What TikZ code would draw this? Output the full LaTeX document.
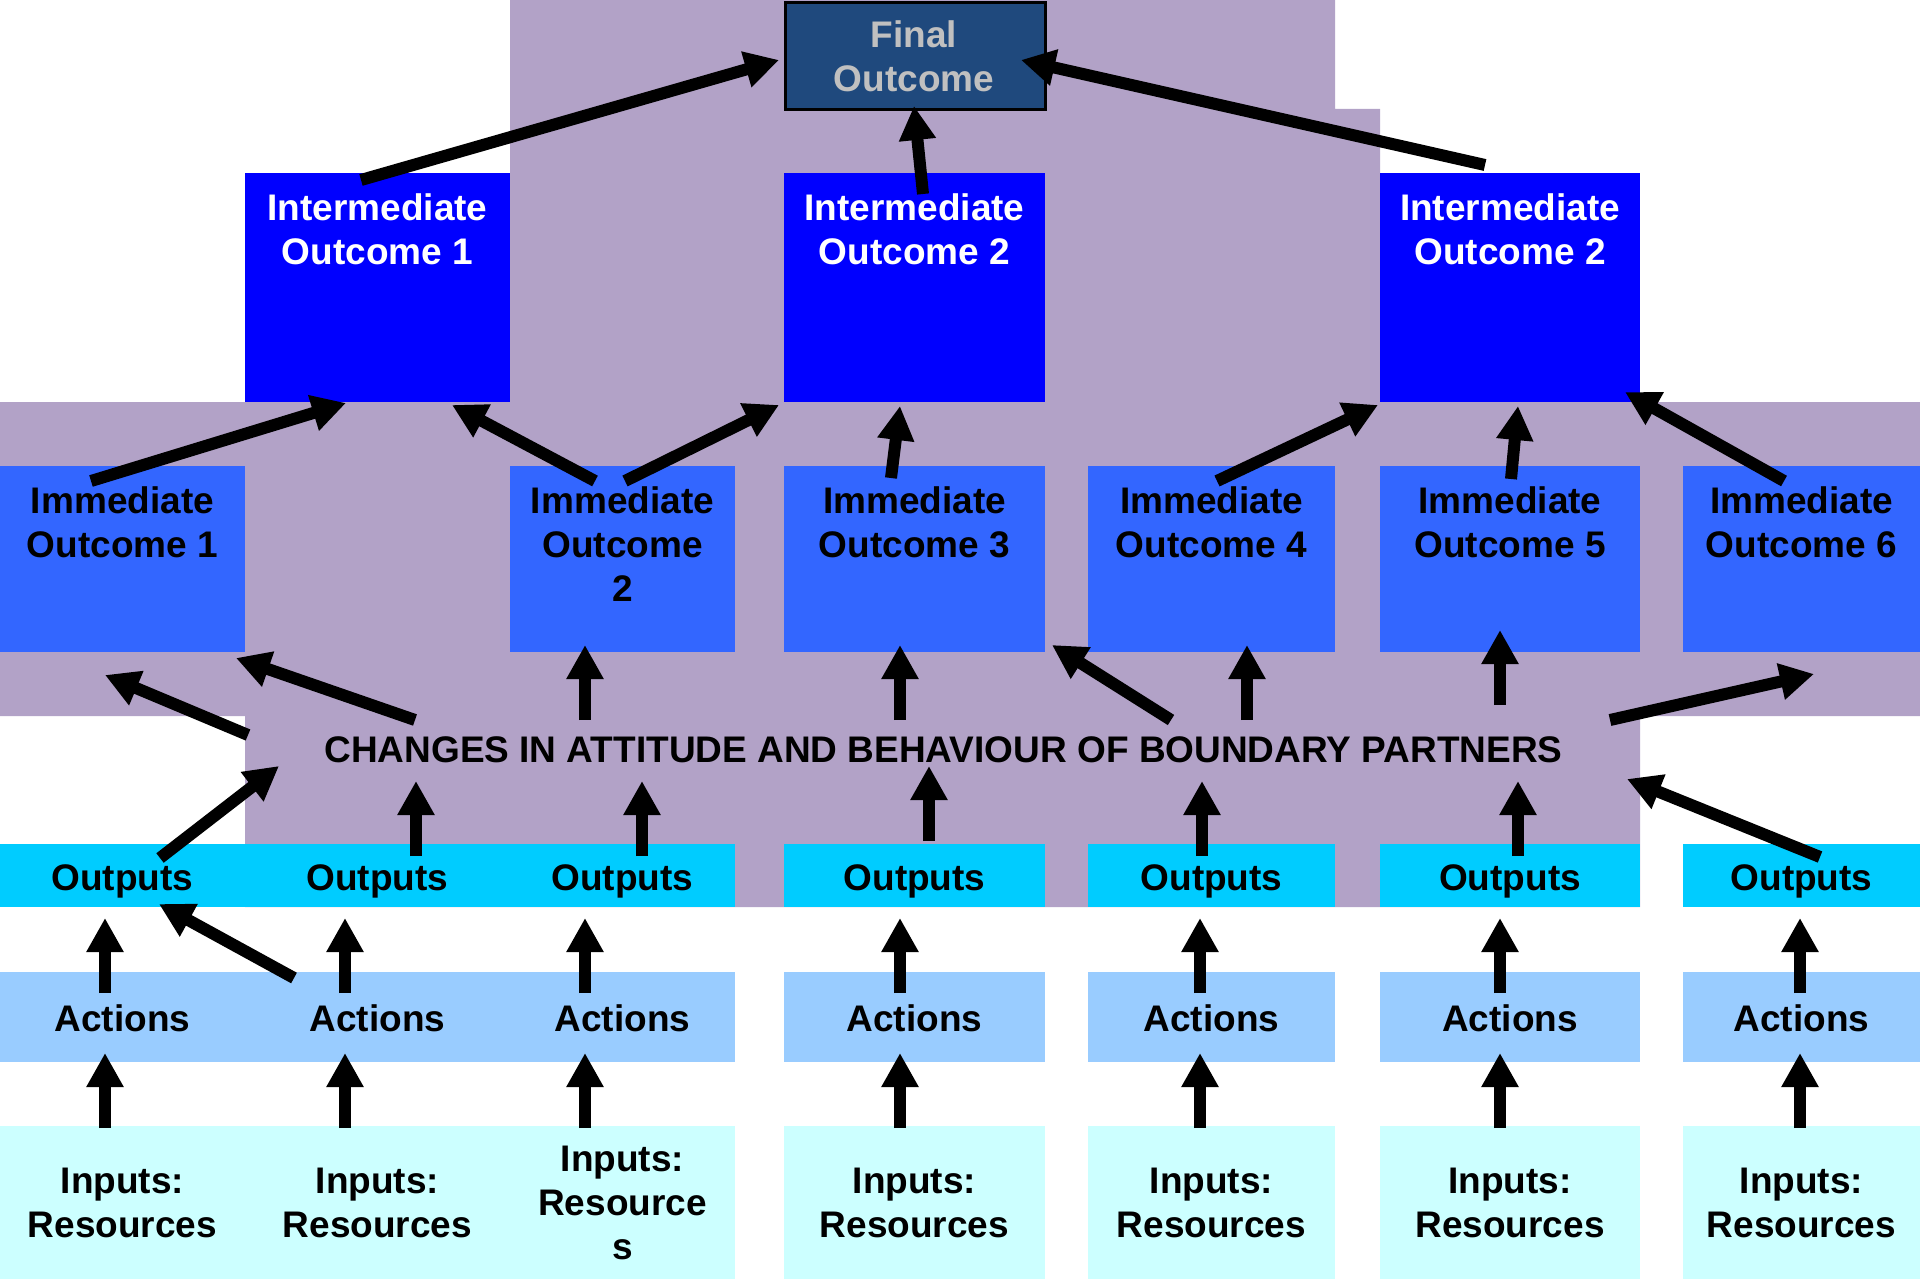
\documentclass[tikz,border=0pt]{standalone}
\usepackage{fontspec}
\setmainfont{Liberation Sans}
\usetikzlibrary{arrows.meta}
\definecolor{purp}{HTML}{B2A2C7}
\definecolor{finalc}{HTML}{1F497D}
\definecolor{finalt}{HTML}{C0C0C0}
\definecolor{interc}{HTML}{0000FF}
\definecolor{immc}{HTML}{3366FF}
\definecolor{outc}{HTML}{00CCFF}
\definecolor{actc}{HTML}{99CCFF}
\definecolor{inc}{HTML}{CCFFFF}
\begin{document}
\begin{tikzpicture}[x=1pt,y=-1pt,
  box/.style={rectangle, inner sep=0pt, anchor=north west, draw=none},
  txt/.style={inner sep=0pt, anchor=north, align=center, font=\bfseries\fontsize{37}{44}\selectfont},
  arr/.style={line width=12pt, -{Triangle[width=35pt,length=34pt]}},
]
\useasboundingbox (0,0) rectangle (1920,1279);
% purple background
\fill[purp] (510,0) -- (1335,0) -- (1335,109) -- (1380,109) -- (1380,402) -- (1920,402)
  -- (1920,716) -- (1640,716) -- (1640,907) -- (245,907) -- (245,716) -- (0,716)
  -- (0,402) -- (510,402) -- cycle;

% final outcome
\node[box, fill=finalc, draw=black, line width=3pt, minimum width=260pt, minimum height=107pt] (FO) at (784,1.5) {};
\node[txt, text=finalt] (FOt) at (914,20) {Final\\Outcome};

% intermediate outcomes
\node[box, fill=interc, minimum width=265pt, minimum height=229pt] (IO1) at (245,173) {};
\node[box, fill=interc, minimum width=261pt, minimum height=229pt] (IO2) at (784,173) {};
\node[box, fill=interc, minimum width=260pt, minimum height=229pt] (IO3) at (1380,173) {};
\node[txt, text=white] (IO1t) at (377.5,193) {Intermediate\\Outcome 1};
\node[txt, text=white] (IO2t) at (914.5,193) {Intermediate\\Outcome 2};
\node[txt, text=white] (IO3t) at (1510,193) {Intermediate\\Outcome 2};

% immediate outcomes
\node[box, fill=immc, minimum width=245pt, minimum height=186pt] (IM1) at (0,466) {};
\node[box, fill=immc, minimum width=225pt, minimum height=186pt] (IM2) at (510,466) {};
\node[box, fill=immc, minimum width=261pt, minimum height=186pt] (IM3) at (784,466) {};
\node[box, fill=immc, minimum width=247pt, minimum height=186pt] (IM4) at (1088,466) {};
\node[box, fill=immc, minimum width=260pt, minimum height=186pt] (IM5) at (1380,466) {};
\node[box, fill=immc, minimum width=237pt, minimum height=186pt] (IM6) at (1683,466) {};
\node[txt] (IM1t) at (122.5,486) {Immediate\\Outcome 1};
\node[txt] (IM2t) at (622.5,486) {Immediate\\Outcome\\2};
\node[txt] (IM3t) at (914.5,486) {Immediate\\Outcome 3};
\node[txt] (IM4t) at (1211.5,486) {Immediate\\Outcome 4};
\node[txt] (IM5t) at (1510,486) {Immediate\\Outcome 5};
\node[txt] (IM6t) at (1801.5,486) {Immediate\\Outcome 6};

% changes text
\node[txt] (CH) at (943.5,736) {CHANGES IN ATTITUDE AND BEHAVIOUR OF BOUNDARY PARTNERS};

% outputs
\node[box, fill=outc, minimum width=735pt, minimum height=63pt] (OUA) at (0,844) {};
\node[box, fill=outc, minimum width=261pt, minimum height=63pt] (OU4) at (784,844) {};
\node[box, fill=outc, minimum width=247pt, minimum height=63pt] (OU5) at (1088,844) {};
\node[box, fill=outc, minimum width=260pt, minimum height=63pt] (OU6) at (1380,844) {};
\node[box, fill=outc, minimum width=237pt, minimum height=63pt] (OU7) at (1683,844) {};
\node[txt] (O1t) at (122.5,864) {Outputs};
\node[txt] (O2t) at (377.5,864) {Outputs};
\node[txt] (O3t) at (622.5,864) {Outputs};
\node[txt] (O4t) at (914.5,864) {Outputs};
\node[txt] (O5t) at (1211.5,864) {Outputs};
\node[txt] (O6t) at (1510,864) {Outputs};
\node[txt] (O7t) at (1801.5,864) {Outputs};

% actions
\node[box, fill=actc, minimum width=735pt, minimum height=90pt] (ACA) at (0,972) {};
\node[box, fill=actc, minimum width=261pt, minimum height=90pt] (AC4) at (784,972) {};
\node[box, fill=actc, minimum width=247pt, minimum height=90pt] (AC5) at (1088,972) {};
\node[box, fill=actc, minimum width=260pt, minimum height=90pt] (AC6) at (1380,972) {};
\node[box, fill=actc, minimum width=237pt, minimum height=90pt] (AC7) at (1683,972) {};
\node[txt] (A1t) at (122.5,1004) {Actions};
\node[txt] (A2t) at (377.5,1004) {Actions};
\node[txt] (A3t) at (622.5,1004) {Actions};
\node[txt] (A4t) at (914.5,1004) {Actions};
\node[txt] (A5t) at (1211.5,1004) {Actions};
\node[txt] (A6t) at (1510,1004) {Actions};
\node[txt] (A7t) at (1801.5,1004) {Actions};

% inputs
\node[box, fill=inc, minimum width=735pt, minimum height=153pt] (INA) at (0,1126) {};
\node[box, fill=inc, minimum width=261pt, minimum height=153pt] (IN4) at (784,1126) {};
\node[box, fill=inc, minimum width=247pt, minimum height=153pt] (IN5) at (1088,1126) {};
\node[box, fill=inc, minimum width=260pt, minimum height=153pt] (IN6) at (1380,1126) {};
\node[box, fill=inc, minimum width=237pt, minimum height=153pt] (IN7) at (1683,1126) {};
\node[txt] (I1t) at (122.5,1168) {Inputs:\\Resources};
\node[txt] (I2t) at (377.5,1168) {Inputs:\\Resources};
\node[txt] (I3t) at (622.5,1146) {Inputs:\\Resource\\s};
\node[txt] (I4t) at (914.5,1168) {Inputs:\\Resources};
\node[txt] (I5t) at (1211.5,1168) {Inputs:\\Resources};
\node[txt] (I6t) at (1510,1168) {Inputs:\\Resources};
\node[txt] (I7t) at (1801.5,1168) {Inputs:\\Resources};

% ---------- arrows ----------
% inputs -> actions, actions -> outputs
\foreach \i/\x in {1/105,2/345,3/585,4/900,5/1200,6/1500,7/1800}{
  \coordinate (ia\i) at (\x,1128);
  \coordinate (ai\i) at (\x,1053);
  \coordinate (ao\i) at (\x,993);
  \coordinate (oa\i) at (\x,918);
  \draw[arr] (ia\i) -- (ai\i);
  \draw[arr] (ao\i) -- (oa\i);
}
\coordinate (ad2) at (294,978);
\coordinate (od1) at (159,904);
\draw[arr] (ad2) -- (od1);

% outputs -> changes
\coordinate (oc1) at (160,858);  \coordinate (co1) at (279,766);
\draw[arr] (oc1) -- (co1);
\foreach \i/\x in {2/416,3/642,5/1202,6/1518}{
  \coordinate (oc\i) at (\x,856);
  \coordinate (co\i) at (\x,781);
  \draw[arr] (oc\i) -- (co\i);
}
\coordinate (oc4) at (929,841);  \coordinate (co4) at (929,766);
\draw[arr] (oc4) -- (co4);
\coordinate (oc7) at (1820,857); \coordinate (co7) at (1627,779);
\draw[arr] (oc7) -- (co7);

% changes -> immediate outcomes
\coordinate (cm1) at (248,735);  \coordinate (mc1) at (105,675);
\coordinate (cm2) at (415,720);  \coordinate (mc2) at (236,658);
\coordinate (cm3) at (585,720);  \coordinate (mc3) at (585,645);
\coordinate (cm4) at (900,720);  \coordinate (mc4) at (900,645);
\coordinate (cm5) at (1171,720); \coordinate (mc5) at (1052,645);
\coordinate (cm6) at (1247,720); \coordinate (mc6) at (1247,645);
\coordinate (cm7) at (1500,705); \coordinate (mc7) at (1500,630);
\coordinate (cm8) at (1610,720); \coordinate (mc8) at (1814,674);
\foreach \i in {1,...,8}{ \draw[arr] (cm\i) -- (mc\i); }

% immediate -> intermediate
\coordinate (mi1) at (91,481);   \coordinate (im1) at (346,403);
\coordinate (mi2) at (595,481);  \coordinate (im2) at (452,405);
\coordinate (mi3) at (625,481);  \coordinate (im3) at (779,405);
\coordinate (mi4) at (891,478);  \coordinate (im4) at (900,406);
\coordinate (mi5) at (1217,481); \coordinate (im5) at (1378,405);
\coordinate (mi6) at (1511,479); \coordinate (im6) at (1518,406);
\coordinate (mi7) at (1784,481); \coordinate (im7) at (1625,392);
\foreach \i in {1,...,7}{ \draw[arr] (mi\i) -- (im\i); }

% intermediate -> final
\coordinate (if1) at (361,180);  \coordinate (fi1) at (779,60);
\coordinate (if2) at (923,194);  \coordinate (fi2) at (914,106);
\coordinate (if3) at (1485,165); \coordinate (fi3) at (1021,60);
\foreach \i in {1,2,3}{ \draw[arr] (if\i) -- (fi\i); }
\end{tikzpicture}
\end{document}
